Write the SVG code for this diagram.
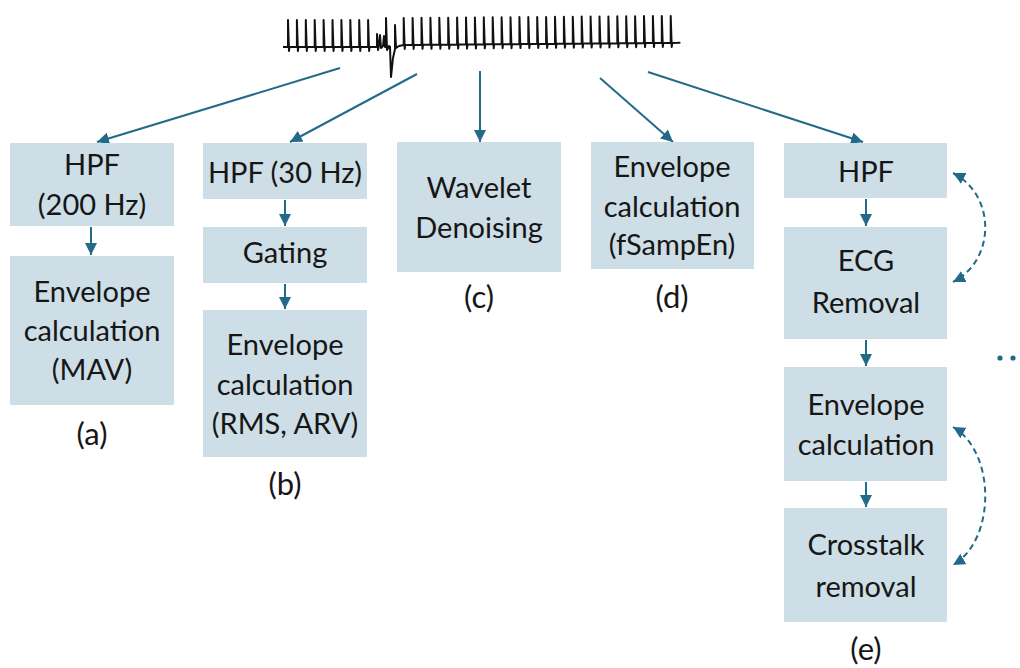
<svg xmlns="http://www.w3.org/2000/svg" width="1020" height="668" viewBox="0 0 1020 668">
<style>
.box{fill:#cddee6}
.t{font-family:Lato,"Liberation Sans",sans-serif;font-size:29px;fill:#161616;text-anchor:middle}
.l{font-size:31px}
.c{stroke:#226a89;stroke-width:2;fill:none}
.d{stroke:#226a89;stroke-width:2;fill:none;stroke-dasharray:6 4}
</style>
<defs>
<marker id="ah" viewBox="0 0 10 10" refX="10" refY="5" markerWidth="6" markerHeight="6" orient="auto-start-reverse" markerUnits="strokeWidth">
<path d="M0,0 L10,5 L0,10 z" fill="#226a89"/>
</marker>
</defs>
<rect width="1020" height="668" fill="#fff"/>
<g id="signal">
<path d="M283,47 h5 v-27l1,31l.5,-4l7.4,0 v-27l1,31l.5,-4l7.4,0 v-27l1,31l.5,-4l7.4,0 v-27l1,31l.5,-4l7.4,0 v-27l1,31l.5,-4l7.4,0 v-27l1,31l.5,-4l7.4,0 v-27l1,31l.5,-4l7.4,0 v-27l1,31l.5,-4l7.4,0 v-27l1,31l.5,-4l7.4,0 v-27l1,31l.5,-4l7.4,0 L377,34 L378,50 L379,45 L380,35 L381,48 L383,46 L384,36 L385,47 L386,47 L386,18 L387,50 L389,46 L390,47 L391,77 L393,58 L395,49 L395,25 L396,48 L399,46 L403.7,45 v-27l1,31l.5,-4l7.4,-.07 v-27l1,31l.5,-4l7.4,-.07 v-27l1,31l.5,-4l7.4,-.07 v-27l1,31l.5,-4l7.4,-.07 v-27l1,31l.5,-4l7.4,-.07 v-27l1,31l.5,-4l7.4,-.07 v-27l1,31l.5,-4l7.4,-.07 v-27l1,31l.5,-4l7.4,-.07 v-27l1,31l.5,-4l7.4,-.07 v-27l1,31l.5,-4l7.4,-.07 v-27l1,31l.5,-4l7.4,-.07 v-27l1,31l.5,-4l7.4,-.07 v-27l1,31l.5,-4l7.4,-.07 v-27l1,31l.5,-4l7.4,-.07 v-27l1,31l.5,-4l7.4,-.07 v-27l1,31l.5,-4l7.4,-.07 v-27l1,31l.5,-4l7.4,-.07 v-27l1,31l.5,-4l7.4,-.07 v-27l1,31l.5,-4l7.4,-.07 v-27l1,31l.5,-4l7.4,-.07 v-27l1,31l.5,-4l7.4,-.07 v-27l1,31l.5,-4l7.4,-.07 v-27l1,31l.5,-4l7.4,-.07 v-27l1,31l.5,-4l7.4,-.07 v-27l1,31l.5,-4l7.4,-.07 v-27l1,31l.5,-4l7.4,-.07 v-27l1,31l.5,-4l7.4,-.07 v-27l1,31l.5,-4l7.4,-.07 v-27l1,31l.5,-4l7.4,-.07 v-27l1,31l.5,-4l7.4,-.07 v-27l1,31l.5,-4l7.4,-.07 h-2" fill="none" stroke="#111" stroke-width="2" stroke-linejoin="round"/>
</g>
<g id="connectors">
<path class="c" d="M340,68 L97,142" marker-end="url(#ah)"/>
<path class="c" d="M417,74 L290,142" marker-end="url(#ah)"/>
<path class="c" d="M480,71 L480,142" marker-end="url(#ah)"/>
<path class="c" d="M600,78 L673,142" marker-end="url(#ah)"/>
<path class="c" d="M648,72 L863,142" marker-end="url(#ah)"/>
<path class="c" d="M91,227 L91,255" marker-end="url(#ah)"/>
<path class="c" d="M285,200 L285,226" marker-end="url(#ah)"/>
<path class="c" d="M285,284 L285,309" marker-end="url(#ah)"/>
<path class="c" d="M866,199 L866,226" marker-end="url(#ah)"/>
<path class="c" d="M866,340 L866,366" marker-end="url(#ah)"/>
<path class="c" d="M866,482 L866,507" marker-end="url(#ah)"/>
<path class="d" d="M953,173 C996,195 996,260 953,282" marker-start="url(#ah)" marker-end="url(#ah)"/>
<path class="d" d="M953,427 C996,452 996,540 953,565" marker-start="url(#ah)" marker-end="url(#ah)"/>
</g>
<g id="a1"><rect class="box" x="10" y="143" width="164" height="83"/><text class="t" x="92" y="175">HPF</text><text class="t" x="92" y="215">(200 Hz)</text></g>
<g id="a2"><rect class="box" x="10" y="256" width="164" height="149"/><text class="t" x="92" y="302">Envelope</text><text class="t" x="92" y="341">calculation</text><text class="t" x="92" y="380">(MAV)</text></g>
<g id="la"><text class="t l" x="92" y="445">(a)</text></g>
<g id="b1"><rect class="box" x="203" y="143" width="164" height="56"/><text class="t" x="285" y="183">HPF (30 Hz)</text></g>
<g id="b2"><rect class="box" x="203" y="227" width="164" height="56"/><text class="t" x="285" y="263">Gating</text></g>
<g id="b3"><rect class="box" x="203" y="310" width="164" height="147"/><text class="t" x="285" y="355">Envelope</text><text class="t" x="285" y="395">calculation</text><text class="t" x="285" y="434">(RMS, ARV)</text></g>
<g id="lb"><text class="t l" x="285" y="495">(b)</text></g>
<g id="c1"><rect class="box" x="397" y="142" width="164" height="130"/><text class="t" x="479" y="198">Wavelet</text><text class="t" x="479" y="238">Denoising</text></g>
<g id="lc"><text class="t l" x="479" y="308">(c)</text></g>
<g id="d1"><rect class="box" x="591" y="142" width="163" height="127"/><text class="t" x="672" y="177">Envelope</text><text class="t" x="672" y="217">calculation</text><text class="t" x="672" y="255">(fSampEn)</text></g>
<g id="ld"><text class="t l" x="672" y="308">(d)</text></g>
<g id="e1"><rect class="box" x="784" y="143" width="163" height="55"/><text class="t" x="866" y="182">HPF</text></g>
<g id="e2"><rect class="box" x="784" y="227" width="163" height="112"/><text class="t" x="866" y="271">ECG</text><text class="t" x="866" y="313">Removal</text></g>
<g id="e3"><rect class="box" x="784" y="367" width="163" height="114"/><text class="t" x="866" y="415">Envelope</text><text class="t" x="866" y="455">calculation</text></g>
<g id="e4"><rect class="box" x="784" y="508" width="163" height="114"/><text class="t" x="866" y="555">Crosstalk</text><text class="t" x="866" y="597">removal</text></g>
<g id="le"><text class="t l" x="866" y="660">(e)</text></g>
<g id="dots"><circle cx="1000" cy="358" r="2.6" fill="#226a89"/><circle cx="1013" cy="358" r="2.6" fill="#226a89"/></g>
</svg>
